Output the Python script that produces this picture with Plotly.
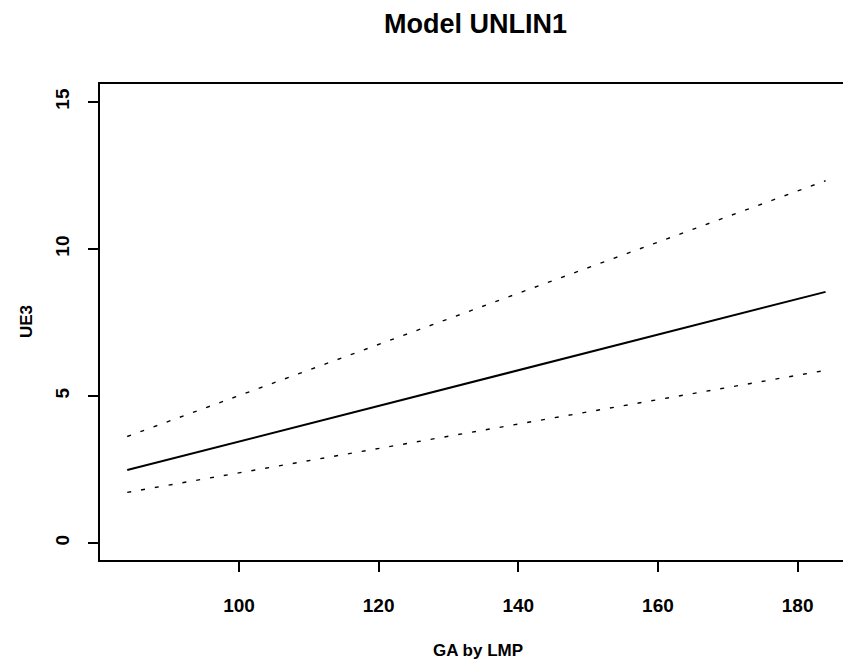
import plotly.graph_objects as go

# Data (GA by LMP in days)
ga_days = [84, 100, 120, 140, 160, 184]
ue3_fit = [2.48, 3.45, 4.66, 5.87, 7.09, 8.54]
ue3_upper = [3.62, 5.01, 6.75, 8.49, 10.23, 12.32]
ue3_lower = [1.72, 2.38, 3.21, 4.04, 4.87, 5.87]

x_ticks = [100, 120, 140, 160, 180]
y_ticks = [0, 5, 10, 15]

FONT = "Liberation Sans, Arial, Helvetica, sans-serif"

fig = go.Figure()
fig.add_trace(go.Scatter(x=ga_days, y=ue3_upper, mode="lines",
                         line=dict(color="black", width=1.4, dash="4px,10px"),
                         showlegend=False, hoverinfo="skip"))
fig.add_trace(go.Scatter(x=ga_days, y=ue3_lower, mode="lines",
                         line=dict(color="black", width=1.4, dash="4px,10px"),
                         showlegend=False, hoverinfo="skip"))
fig.add_trace(go.Scatter(x=ga_days, y=ue3_fit, mode="lines",
                         line=dict(color="black", width=2),
                         showlegend=False, hoverinfo="skip"))

axis_common = dict(
    showline=True, linecolor="black", linewidth=1.6, mirror=True,
    showgrid=False, zeroline=False, automargin=False,
    ticks="outside", ticklen=10, tickwidth=1.5, tickcolor="black",
    tickfont=dict(family=FONT, size=19, color="black", weight="bold"),
)

# The page body adds an 8px offset, so the figure is 8px smaller and shifted.
fig.update_layout(
    width=843, height=656,
    margin=dict(l=92, r=1, t=76, b=104, autoexpand=False),
    paper_bgcolor="white", plot_bgcolor="white",
    xaxis=dict(range=[80.1, 187.5], tickvals=x_ticks, ticktext=[str(v) for v in x_ticks],
               ticklabelstandoff=17, **axis_common),
    yaxis=dict(range=[-0.58, 15.61], tickvals=y_ticks, ticktext=[str(v) for v in y_ticks],
               tickangle=-90, ticklabelstandoff=12, **axis_common),
)

# annotations positioned relative to the plot area (750 x 476 px; screen origin at 100,560)
pw, ph = 750.0, 476.0
fig.update_layout(annotations=[
    dict(text="Model UNLIN1", x=(475 - 100) / pw, y=(560 - 24) / ph, xref="paper", yref="paper",
         xanchor="center", yanchor="middle", showarrow=False,
         font=dict(family=FONT, size=27, color="black", weight="bold")),
    dict(text="GA by LMP", x=(478 - 100) / pw, y=(560 - 650) / ph, xref="paper", yref="paper",
         xanchor="center", yanchor="middle", showarrow=False,
         font=dict(family=FONT, size=17, color="black", weight="bold")),
    dict(text="UE3", x=(26 - 100) / pw, y=(560 - 322) / ph, xref="paper", yref="paper",
         xanchor="center", yanchor="middle", showarrow=False, textangle=-90,
         font=dict(family=FONT, size=17, color="black", weight="bold")),
])

fig.write_html("out.html")
